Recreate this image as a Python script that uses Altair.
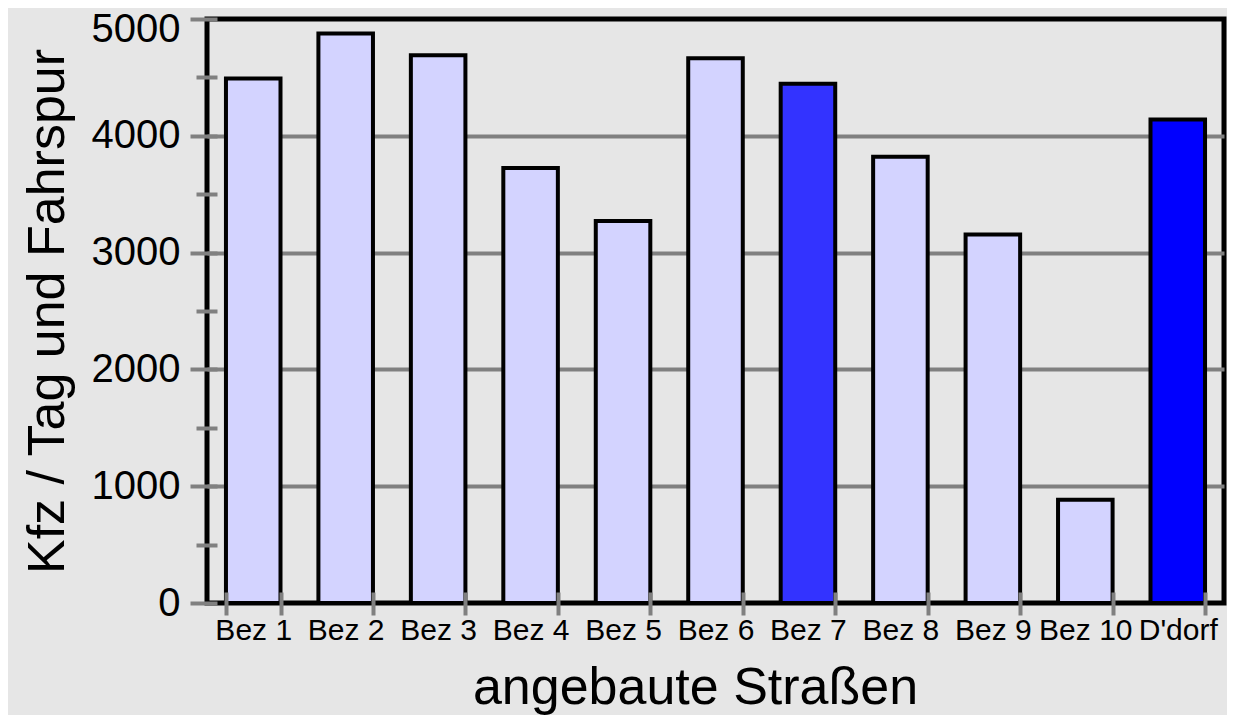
import altair as alt
import pandas as pd

categories = ["Bez 1", "Bez 2", "Bez 3", "Bez 4", "Bez 5", "Bez 6", "Bez 7", "Bez 8", "Bez 9", "Bez 10", "D'dorf"]
values = [4490, 4875, 4690, 3725, 3270, 4665, 4445, 3820, 3155, 885, 4140]
bar_colors = ["#d3d3ff", "#d3d3ff", "#d3d3ff", "#d3d3ff", "#d3d3ff", "#d3d3ff", "#3333ff", "#d3d3ff", "#d3d3ff", "#d3d3ff", "#0000ff"]
y_ticks = [0, 500, 1000, 1500, 2000, 2500, 3000, 3500, 4000, 4500, 5000]

df = pd.DataFrame({"cat": categories, "val": values, "color": bar_colors})

FONT = "Liberation Sans"
GRAY = "#808080"

chart = alt.Chart(df).mark_bar(stroke="black", strokeWidth=4).encode(
    x=alt.X(
        "cat:N",
        sort=categories,
        scale=alt.Scale(paddingInner=0.41, paddingOuter=0.205),
        axis=alt.Axis(
            title="angebaute Straßen",
            titleFontSize=52,
            titleFont=FONT,
            titleFontWeight="normal",
            titleColor="black",
            titlePadding=17,
            titleX=488,
            labelFont=FONT,
            labelFontSize=30,
            labelColor="black",
            labelAngle=0,
            labelPadding=0,
            labelOverlap=False,
            labelLimit=0,
            labelBound=False,
            tickBand="extent",
            tickSize=23,
            tickWidth=4,
            tickColor=GRAY,
            offset=-11,
            domain=False,
            grid=False,
            zindex=2,
        ),
    ),
    y=alt.Y(
        "val:Q",
        scale=alt.Scale(domain=[0, 5000], nice=False, zero=True),
        axis=alt.Axis(
            title="Kfz / Tag und Fahrspur",
            titleFontSize=52,
            titleFont=FONT,
            titleFontWeight="normal",
            titleColor="black",
            titlePadding=17,
            values=y_ticks,
            labelExpr="datum.value % 1000 === 0 ? datum.label : ''",
            format="d",
            labelFont=FONT,
            labelFontSize=40,
            labelColor="black",
            labelPadding=10,
            labelOffset={"condition": {"test": "datum.value === 5000", "value": 10}, "value": 0},
            tickSize={"condition": {"test": "datum.value % 1000 === 0", "value": 27}, "value": 21},
            tickWidth=4,
            tickColor=GRAY,
            offset=-10,
            domain=False,
            grid=True,
            gridColor=GRAY,
            gridWidth=4,
            gridOpacity={"condition": {"test": "datum.value % 1000 === 0 && datum.value > 0 && datum.value < 5000", "value": 1}, "value": 0},
        ),
    ),
    color=alt.Color("color:N", scale=None, legend=None),
).properties(
    width=1017,
    height=584,
    autosize=alt.AutoSizeParams(type="none"),
    padding={"left": 199, "top": 11, "right": 3, "bottom": 112},
    background="#e6e6e6",
).configure_view(
    stroke="black",
    strokeWidth=5,
    fill="#e6e6e6",
)

chart.save("out.html", embed_options={"renderer": "svg", "actions": False})
